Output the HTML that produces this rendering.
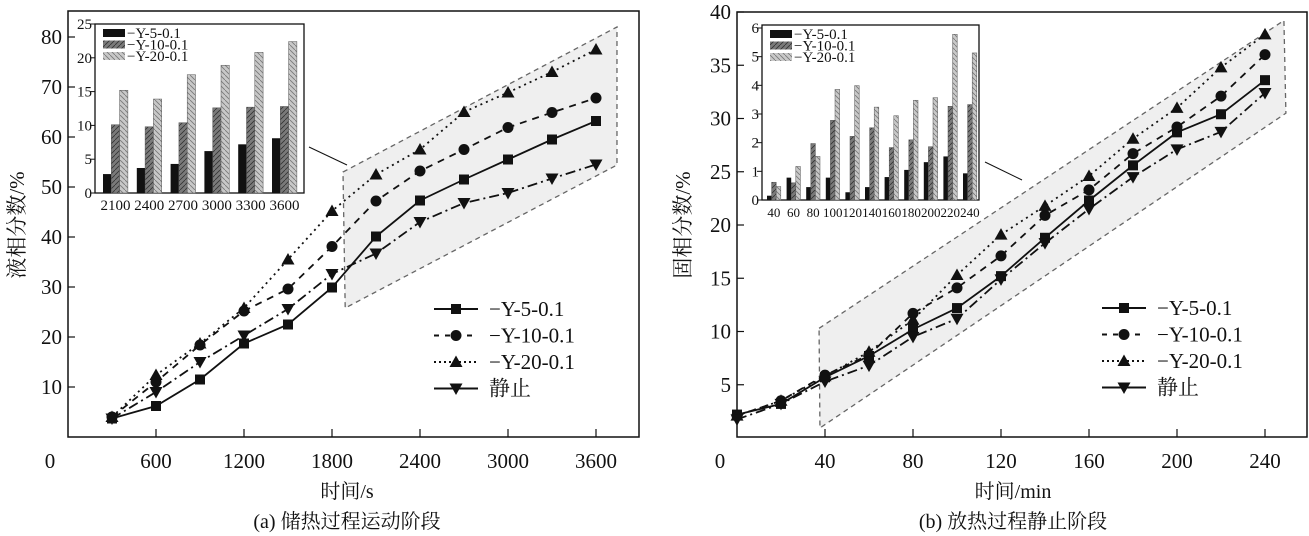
<!DOCTYPE html>
<html><head><meta charset="utf-8">
<style>
html,body{margin:0;padding:0;background:#fff;}
svg{display:block;font-family:"Liberation Serif","Noto Serif CJK SC","Noto Sans CJK SC",serif;}
</style></head>
<body>
<svg id="fig" width="1309" height="536" viewBox="0 0 1309 536" xmlns="http://www.w3.org/2000/svg">
<defs>
<pattern id="hatchDark" patternUnits="userSpaceOnUse" width="5" height="5"><rect width="5" height="5" fill="#7a7a7a"/><path d="M0,5 L5,0" stroke="#333" stroke-width="0.8"/></pattern>
<pattern id="hatchLight" patternUnits="userSpaceOnUse" width="5" height="5"><rect width="5" height="5" fill="#c8c8c8"/><path d="M0,0 L5,5" stroke="#777" stroke-width="0.8"/></pattern>
</defs>
</svg>
<script>
// ---------- Chart (a) data ----------
const aX = [300,600,900,1200,1500,1800,2100,2400,2700,3000,3300,3600];
const aY5 = [3.7,6.2,11.5,18.7,22.5,29.9,40.1,47.3,51.5,55.5,59.5,63.2];
const aY10 = [4,11,18.4,25.2,29.6,38.1,47.2,53.2,57.5,61.9,64.9,67.8];
const aY20 = [4,12.4,18.7,25.8,35.5,45.2,52.5,57.5,65,68.9,73,77.5];
const aStill = [3.7,9,15,20.3,25.6,32.6,36.7,43,46.8,48.8,51.7,54.5];
const aXTicks = [600,1200,1800,2400,3000,3600];
const aYTicks = [10,20,30,40,50,60,70,80];
const aInsetCats = ["2100","2400","2700","3000","3300","3600"];
const aInsetY5 = [2.8,3.7,4.3,6.2,7.2,8.1];
const aInsetY10 = [10.1,9.8,10.4,12.6,12.7,12.8];
const aInsetY20 = [15.2,13.9,17.5,18.9,20.8,22.4];
const aInsetTicks = [0,5,10,15,20,25];
// ---------- Chart (b) data ----------
const bX = [0,20,40,60,80,100,120,140,160,180,200,220,240];
const bY5 = [2.2,3.2,5.7,7.7,10.2,12.2,15.2,18.8,22.3,25.6,28.7,30.4,33.6];
const bY10 = [2.1,3.5,5.9,7.8,11.7,14.1,17.1,20.9,23.3,26.7,29.2,32.1,36];
const bY20 = [2.1,3.5,5.8,8.1,11.1,15.3,19.1,21.8,24.6,28.1,31,34.8,37.9];
const bStill = [1.75,3.2,5.3,6.8,9.5,11.2,14.9,18.3,21.5,24.5,27.1,28.75,32.4];
const bXTicks = [40,80,120,160,200,240];
const bYTicks = [5,10,15,20,25,30,35,40];
const bInsetCats = ["40","60","80","100","120","140","160","180","200","220","240"];
const bInsetY5 = [0.15,0.78,0.45,0.78,0.27,0.45,0.8,1.05,1.32,1.52,0.93];
const bInsetY10 = [0.62,0.6,1.97,2.78,2.22,2.52,1.83,2.1,1.86,3.27,3.33];
const bInsetY20 = [0.47,1.17,1.52,3.86,3.99,3.24,2.94,3.48,3.57,5.78,5.13];
const bInsetTicks = [0,1,2,3,4,5,6];

const svg = document.getElementById('fig');
const NS = 'http://www.w3.org/2000/svg';
function mk(tag, attrs, parent){
  const e = document.createElementNS(NS, tag);
  for (const k in attrs) e.setAttribute(k, attrs[k]);
  (parent||svg).appendChild(e);
  return e;
}
function txt(s, x, y, size, anchor, parent){
  const t = mk('text', {x:x, y:y, 'font-size':size, 'text-anchor':anchor||'middle', fill:'#111'}, parent);
  t.textContent = s;
  return t;
}
function marker(g, type, x, y){
  let m;
  if (type==='square') m = mk('rect',{x:x-5,y:y-5,width:10,height:10,fill:'#111'},g);
  else if (type==='circle') m = mk('circle',{cx:x,cy:y,r:5.5,fill:'#111'},g);
  else if (type==='up') m = mk('path',{d:`M${x},${y-6.5} L${x+6.5},${y+5} L${x-6.5},${y+5} Z`,fill:'#111'},g);
  else m = mk('path',{d:`M${x},${y+6.5} L${x+6.5},${y-5} L${x-6.5},${y-5} Z`,fill:'#111'},g);
  
  
}
const seriesStyles = [
  {name:'Y-5', label:'\u2212Y-5-0.1', dash:'', mk:'square'},
  {name:'Y-10', label:'\u2212Y-10-0.1', dash:'7,6', mk:'circle'},
  {name:'Y-20', label:'\u2212Y-20-0.1', dash:'2,4', mk:'up'},
  {name:'still', label:'静止', dash:'10,4,2,4', mk:'down'}
];

function drawChart(c){
  const g = mk('g', {});
  
  
  const sx = v => c.x0 + (v - c.xmin) * c.xs;
  const sy = v => c.y0 - (v - c.ymin) * c.ys;
  const poly = c.region.map(p => sx(p[0]) + ',' + sy(p[1])).join(' ');
  const reg = mk('polygon', {points:poly, fill:'#efefef', stroke:'#666', 'stroke-width':1.3, 'stroke-dasharray':'5,4'}, g);
  
  
  const fr = mk('rect', {x:c.left, y:c.top, width:c.right-c.left, height:c.bottom-c.top, fill:'none', stroke:'#111', 'stroke-width':1.5}, g);
  
  
  c.xTicks.forEach(v => {
    mk('line', {x1:sx(v), x2:sx(v), y1:c.bottom, y2:c.bottom-8, stroke:'#111', 'stroke-width':1.2}, g);
    const t = txt(String(v), sx(v), c.bottom+31, 21, 'middle', g);
    
    
  });
  const z = txt('0', c.zeroX, c.bottom+31, 21, 'middle', g);
  
  
  c.yTicks.forEach(v => {
    mk('line', {x1:c.left, x2:c.left+7, y1:sy(v), y2:sy(v), stroke:'#111', 'stroke-width':1.2}, g);
    const t = txt(String(v), c.left-6, sy(v)+7, 21, 'end', g);
    
    
  });
  c.series.forEach((ys, i) => {
    const st = seriesStyles[i];
    const sg = mk('g', {}, g);
    
    
    const pts = c.xs_.map((xv, j) => sx(xv) + ',' + sy(ys[j])).join(' ');
    const pl = mk('polyline', {points:pts, fill:'none', stroke:'#111', 'stroke-width':1.8, 'stroke-dasharray':st.dash}, sg);
    
    
    c.xs_.forEach((xv, j) => marker(sg, st.mk, sx(xv), sy(ys[j])));
  });
  const cn = mk('line', {x1:c.conn[0], y1:c.conn[1], x2:c.conn[2], y2:c.conn[3], stroke:'#111', 'stroke-width':1}, g);
  
  
  const lg = mk('g', {}, g);
  
  
  seriesStyles.forEach((st, i) => {
    const yy = c.legY + i*26.5;
    const e = mk('g', {}, lg);
    
    
    mk('line', {x1:c.legX, x2:c.legX+44, y1:yy, y2:yy, stroke:'#111', 'stroke-width':2, 'stroke-dasharray':st.dash==='2,4'?'2,3':(st.dash==='7,6'?'5,6':'')}, e);
    marker(e, st.mk, c.legX+22, yy);
    txt(st.label, c.legX+55, yy+7, 21, 'start', e);
  });
  const xt = txt(c.xTitle, c.cx, 498, 20, 'middle', g);
  
  
  const cap = txt(c.caption, c.cx, 528, 20, 'middle', g);
  
  
  const yt = mk('text', {x:0, y:0, 'font-size':21, 'text-anchor':'middle', fill:'#111', transform:`translate(${c.ytX},${c.ytY}) rotate(-90)`}, g);
  yt.textContent = c.yTitle;
  
  
  const ins = c.inset;
  const ig = mk('g', {}, g);
  
  
  mk('rect', {x:ins.l, y:ins.t, width:ins.r-ins.l, height:ins.b-ins.t, fill:'#fff', stroke:'#111', 'stroke-width':1.3}, ig);
  const iy = v => ins.b - v * ins.ys;
  ins.ticks.forEach(v => {
    mk('line', {x1:ins.l, x2:ins.l-5, y1:iy(v), y2:iy(v), stroke:'#111', 'stroke-width':1}, ig);
    const t = txt(String(v), ins.l-3, iy(v)+5, 15, 'end', ig);
    
    
  });
  const fills = ['#111', 'url(#hatchDark)', 'url(#hatchLight)'];
  const names = ['Y-5', 'Y-10', 'Y-20'];
  ins.cats.forEach((cat, k) => {
    const gx = ins.g0 + k * ins.gs;
    ins.vals.forEach((arr, s) => {
      const b = mk('rect', {x:gx + s*ins.bw, y:iy(arr[k]), width:ins.bw, height:arr[k]*ins.ys, fill:fills[s], stroke:s?'#555':'none', 'stroke-width':0.5}, ig);
      
      
    });
    const t = txt(cat, gx + 1.5*ins.bw, ins.b + 17, ins.catSize, 'middle', ig);
    if (ins.condense) t.setAttribute('textLength', ins.condense);
    
    
  });
  const il = mk('g', {}, ig);
  
  
  names.forEach((n, s) => {
    const yy = ins.legY + s*11.5;
    mk('rect', {x:ins.legX, y:yy-4, width:22, height:8, fill:fills[s]}, il);
    txt(seriesStyles[s].label, ins.legX+24, yy+5, 15, 'start', il);
  });
}

drawChart({
  id:'chart-a', left:68, right:639, top:11, bottom:437,
  x0:68, xmin:0, xs:88/600, y0:437, ymin:0, ys:5,
  xTicks:aXTicks, yTicks:aYTicks, zeroX:50,
  xs_:aX, series:[aY5, aY10, aY20, aStill],
  region:[[1875,53],[3743,82],[3743,54.4],[1890,25.8]],
  conn:[309,147,347,165],
  legX:434, legY:309,
  xTitle:'时间/s', caption:'(a) 储热过程运动阶段', cx:347,
  yTitle:'液相分数/%', ytX:24, ytY:225,
  inset:{l:95, r:304, t:24, b:193, ys:169/25, ticks:aInsetTicks, cats:aInsetCats,
    vals:[aInsetY5, aInsetY10, aInsetY20], g0:103, gs:33.8, bw:8.3, catSize:15,
    legX:103, legY:33}
});
drawChart({
  id:'chart-b', left:737, right:1307, top:12, bottom:437,
  x0:737, xmin:0, xs:2.2, y0:438, ymin:0, ys:10.65,
  xTicks:bXTicks, yTicks:bYTicks, zeroX:720,
  xs_:bX, series:[bY5, bY10, bY20, bStill],
  region:[[37.3,10.3],[248.6,39.2],[249.5,30.5],[37.7,0.94]],
  conn:[985,162,1022,180],
  legX:1102, legY:308,
  xTitle:'时间/min', caption:'(b) 放热过程静止阶段', cx:1013,
  yTitle:'固相分数/%', ytX:690, ytY:225,
  inset:{l:762, r:979, t:25, b:200, ys:172/6, ticks:bInsetTicks, cats:bInsetCats,
    vals:[bInsetY5, bInsetY10, bInsetY20], g0:767, gs:19.6, bw:4.6, catSize:13,
    legX:770, legY:34}
});
</script>
</body></html>
